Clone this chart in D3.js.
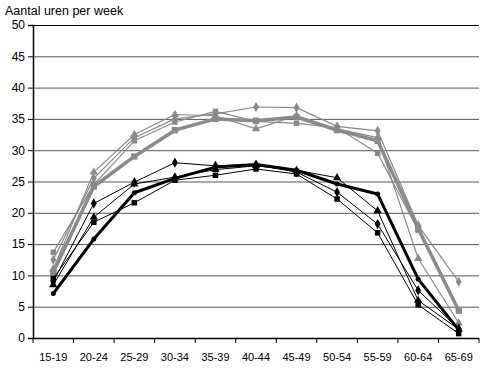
<!DOCTYPE html>
<html><head><meta charset="utf-8">
<script src="https://cdn.jsdelivr.net/npm/d3@7"></script>
<style>body{margin:0;background:#fff}svg{display:block}text{font-family:"Liberation Sans",Arial,sans-serif}</style>
</head><body><svg id="c" width="480" height="371"></svg>
<script>
const categories = ["15-19","20-24","25-29","30-34","35-39","40-44","45-49","50-54","55-59","60-64","65-69"];
const yTicks = [0,5,10,15,20,25,30,35,40,45,50];
const grayThick    = [10.5,24.2,29.0,33.2,35.0,34.7,35.3,33.2,31.5,17.5,4.4];
const grayDiamond  = [12.5,25.5,32.0,35.0,35.8,36.9,36.8,33.8,33.1,18.0,9.0];
const graySquare   = [13.7,24.5,31.5,34.5,36.2,34.6,34.3,33.6,29.5,17.2,4.3];
const grayTriangle = [11.0,26.5,32.5,35.7,35.5,33.4,35.5,33.4,32.0,12.7,2.4];
const blackThick    = [7.1,15.8,23.2,25.5,27.3,27.7,26.8,24.6,23.0,9.4,1.3];
const blackDiamond  = [9.0,21.5,24.9,28.0,27.5,27.7,26.5,23.3,18.2,7.6,1.5];
const blackTriangle = [8.5,19.3,24.6,25.7,26.9,27.5,26.8,25.6,20.3,6.0,1.4];
const blackSquare   = [9.5,18.5,21.6,25.2,26.0,27.0,26.2,22.2,16.8,5.3,0.7];

const series = [
  {v:grayDiamond, c:"#8a8a8a", w:1.2, m:"diamond"},
  {v:graySquare, c:"#8a8a8a", w:1.2, m:"square"},
  {v:grayTriangle, c:"#8a8a8a", w:1.2, m:"triangle"},
  {v:grayThick, c:"#8a8a8a", w:3.5, m:"square"},
  {v:blackDiamond, c:"#000", w:1, m:"diamond"},
  {v:blackTriangle, c:"#000", w:1, m:"triangle"},
  {v:blackSquare, c:"#000", w:1, m:"square"},
  {v:blackThick, c:"#000", w:3, m:"circle"}
];

const svg = d3.select("#c");
const L=33, R=479, T=25, B=338;
const x = d3.scaleBand().domain(categories).range([L,R]);
const y = d3.scaleLinear().domain([0,50]).range([B,T]);

// gridlines
svg.append("g").selectAll("line").data(yTicks.filter(d=>d>0)).join("line")
  .attr("x1",L).attr("x2",R).attr("y1",d=>y(d)+0.5).attr("y2",d=>y(d)+0.5)
  .attr("stroke",d=>d===50?"#000":"#555").attr("stroke-width",1);

// y axis
const ya = svg.append("g").attr("transform",`translate(${L},0)`)
  .call(d3.axisLeft(y).tickValues(yTicks).tickSize(5).tickPadding(3));
ya.select(".domain").attr("stroke","#000").attr("stroke-width",1.5);
ya.selectAll("text").attr("font-size",12).attr("fill","#000");

// x axis
const xa = svg.append("g").attr("transform",`translate(0,${B})`);
xa.append("line").attr("x1",L).attr("x2",R).attr("y1",0.5).attr("y2",0.5).attr("stroke","#000").attr("stroke-width",1.5);
xa.selectAll("line.t").data(categories.map((c,i)=>i).concat([categories.length])).join("line").attr("class","t")
  .attr("x1",i=>i<categories.length?x(categories[i]):R).attr("x2",i=>i<categories.length?x(categories[i]):R)
  .attr("y1",0).attr("y2",5).attr("stroke","#000");
xa.selectAll("text").data(categories).join("text")
  .attr("x",d=>x(d)+x.bandwidth()/2).attr("y",23).attr("text-anchor","middle")
  .attr("font-size",11).text(d=>d);

// title
svg.append("text").attr("x",5).attr("y",15).attr("font-size",12.5).text("Aantal uren per week");

const line = d3.line().x((d,i)=>x(categories[i])+x.bandwidth()/2).y(d=>y(d));
const symMap = {diamond:d3.symbolDiamond, square:d3.symbolSquare, triangle:d3.symbolTriangle, circle:d3.symbolCircle};
series.forEach(s=>{
  const g = svg.append("g");
  g.append("path").datum(s.v).attr("d",line).attr("fill","none").attr("stroke",s.c).attr("stroke-width",s.w).attr("stroke-linejoin","round");
  const size = s.m==="circle"?20:(s.w>2?40:30);
  g.selectAll("path.m").data(s.v).join("path").attr("class","m")
    .attr("transform",(d,i)=>`translate(${x(categories[i])+x.bandwidth()/2},${y(d)})`)
    .attr("d",d3.symbol().type(symMap[s.m]).size(size)).attr("fill",s.c);
});
</script></body></html>
